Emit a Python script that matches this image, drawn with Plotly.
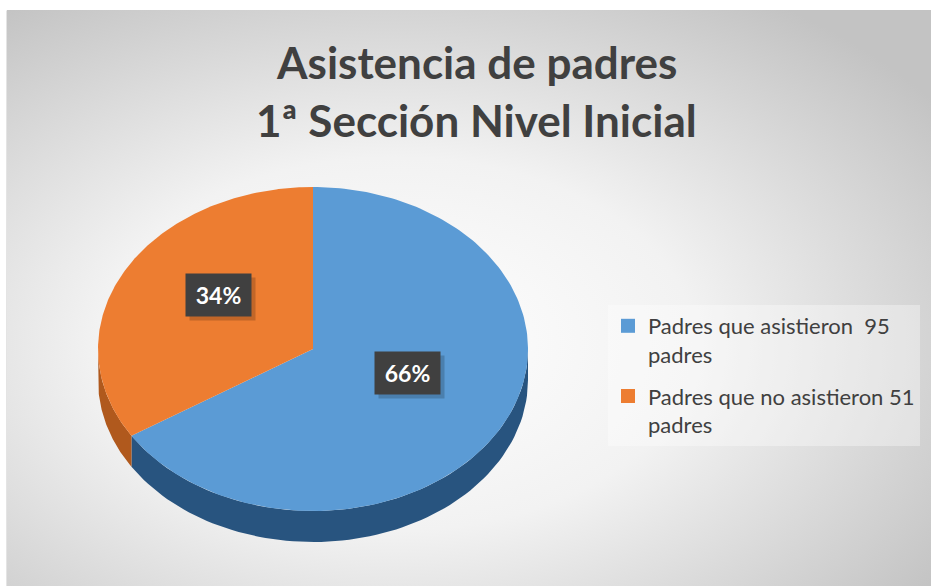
import base64
import numpy as np
import plotly.graph_objects as go

# ---------------- data ----------------
categories = ["Padres que asistieron  95<br>padres", "Padres que no asistieron 51<br>padres"]
values = [66, 34]          # percentages shown in the pie
colors = ["#5B9BD5", "#ED7D31"]
side_colors = ["#28547F", "#B0591D"]
title_lines = ["Asistencia de padres", "1ª Sección Nivel Inicial"]

# ---------------- geometry / style ----------------
W, H = 931, 586
CX, CY, RX, RY, DEPTH = 313, 349, 215, 162, 31
FONT = "Lato, 'Open Sans', sans-serif"
TXT = "#404040"

total = float(sum(values))
fracs = [v / total for v in values]
starts = np.concatenate([[0.0], np.cumsum(fracs)[:-1]]) * 360.0
ends = starts + np.array(fracs) * 360.0


def pt(theta_deg, f=1.0):
    t = np.radians(theta_deg)
    return CX + f * RX * np.sin(t), CY - f * RY * np.cos(t)


fig = go.Figure()

# side walls (front half only: 90..270 deg clockwise from top)
for s, e, sc in zip(starts, ends, side_colors):
    a, b = max(s, 90.0), min(e, 270.0)
    if b <= a:
        continue
    th = np.linspace(a, b, 80)
    xs, ys = pt(th)
    px = np.concatenate([xs, xs[::-1]])
    py = np.concatenate([ys, ys[::-1] + DEPTH])
    fig.add_trace(go.Scatter(x=px, y=py, fill="toself", fillcolor=sc, mode="lines",
                             line=dict(width=0, color=sc), hoverinfo="skip", showlegend=False))

# top faces
for s, e, c in zip(starts, ends, colors):
    th = np.linspace(s, e, 200)
    xs, ys = pt(th)
    px = np.concatenate([[CX], xs, [CX]])
    py = np.concatenate([[CY], ys, [CY]])
    fig.add_trace(go.Scatter(x=px, y=py, fill="toself", fillcolor=c, mode="lines",
                             line=dict(width=0, color=c), hoverinfo="skip", showlegend=False))

# legend entries
for i, (name, c) in enumerate(zip(categories, colors)):
    fig.add_trace(go.Scatter(x=[None], y=[None], mode="markers", name=name,
                             legendgroup=f"g{i}",
                             marker=dict(symbol="square", size=14, color=c)))

# data labels
annotations = []
for s, e, v in zip(starts, ends, values):
    mid = (s + e) / 2
    lx, ly = pt(mid, 0.5)
    ly -= 15
    pct = f"{round(v / total * 100):d}%"
    annotations.append(dict(x=lx + 4, y=ly + 4, xref="x", yref="y", text=" ", showarrow=False,
                            width=63, height=40, bgcolor="rgba(0,0,0,0.18)"))
    annotations.append(dict(x=lx, y=ly, xref="x", yref="y", text=f"<b>{pct}</b>", showarrow=False,
                            width=63, height=40, bgcolor="#404040",
                            font=dict(family=FONT, size=23, color="white")))

# title lines
for line, ty in zip(title_lines, [62, 120]):
    annotations.append(dict(x=476, y=ty, xref="x", yref="y", xanchor="center", yanchor="middle",
                            text=f"<b>{line}</b>", showarrow=False,
                            font=dict(family=FONT, size=44, color=TXT)))

# background gradient as svg image
svg = (f'<svg xmlns="http://www.w3.org/2000/svg" width="{W}" height="{H}" preserveAspectRatio="none">'
       '<defs><radialGradient id="g" cx="42%" cy="58%" r="72%">'
       '<stop offset="0%" stop-color="#ffffff"/><stop offset="45%" stop-color="#f2f2f2"/>'
       '<stop offset="100%" stop-color="#c3c3c3"/></radialGradient></defs>'
       f'<rect x="0" y="0" width="{W}" height="{H}" fill="url(#g)"/></svg>')
src = "data:image/svg+xml;base64," + base64.b64encode(svg.encode()).decode()

shapes = []
# soft shadow beneath pie
for k, op in [(24, 0.035), (17, 0.045), (10, 0.055), (5, 0.07)]:
    shapes.append(dict(type="circle", xref="x", yref="y", layer="below",
                       x0=CX - RX - k + 4, x1=CX + RX + k + 4,
                       y0=CY - RY + DEPTH + 10 - k, y1=CY + RY + DEPTH + 10 + k,
                       fillcolor=f"rgba(0,0,0,{op})", line=dict(width=0)))
shapes.append(dict(type="rect", xref="x", yref="y", x0=7, x1=W + 2, y0=10.5, y1=H + 2,
                   line=dict(color="#c8c8c8", width=1), layer="below"))

fig.update_layout(
    width=W, height=H, autosize=False,
    margin=dict(l=0, r=0, t=0, b=0),
    paper_bgcolor="white", plot_bgcolor="rgba(0,0,0,0)",
    xaxis=dict(range=[0, W], visible=False, fixedrange=True),
    yaxis=dict(range=[H, 0], visible=False, fixedrange=True),
    images=[dict(source=src, xref="x", yref="y", x=7, y=10, sizex=W - 7, sizey=H - 10,
                 sizing="stretch", layer="below", xanchor="left", yanchor="top")],
    shapes=shapes,
    annotations=annotations,
    legend=dict(x=608 / W, y=1 - 305 / H, xanchor="left", yanchor="top",
                bgcolor="rgba(255,255,255,0.35)", valign="top",
                font=dict(family=FONT, size=22, color=TXT), tracegroupgap=10,
                itemwidth=30),
    showlegend=True,
)

fig.write_html("out.html", config={"displayModeBar": False, "staticPlot": True},
               post_script="document.body.style.margin='0';document.body.style.overflow='hidden';")
